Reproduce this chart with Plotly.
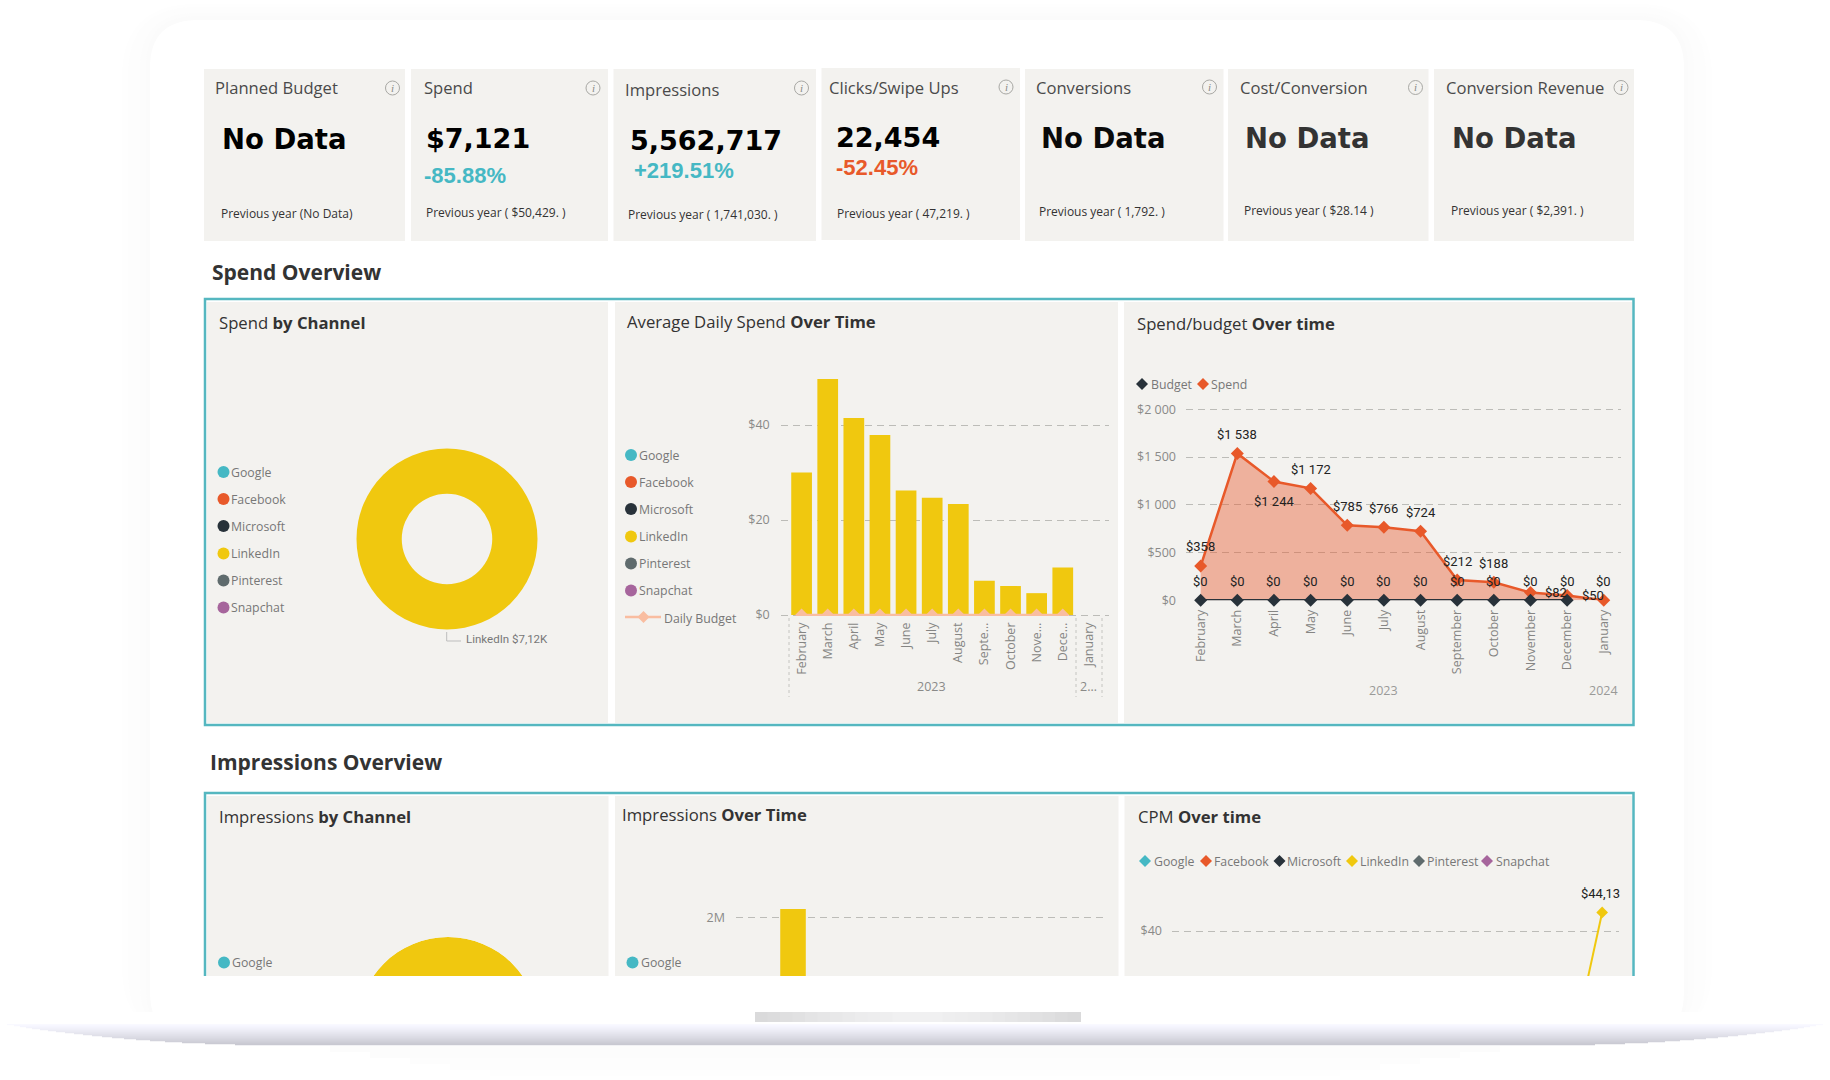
import plotly.graph_objects as go

# ---------- data ----------
kpi_titles = ["Planned Budget", "Spend", "Impressions", "Clicks/Swipe Ups", "Conversions", "Cost/Conversion", "Conversion Revenue"]
kpi_values = ["No Data", "$7,121", "5,562,717", "22,454", "No Data", "No Data", "No Data"]
kpi_changes = [None, "-85.88%", "+219.51%", "-52.45%", None, None, None]
kpi_previous = ["Previous year (No Data)", "Previous year ( $50,429. )", "Previous year ( 1,741,030. )",
                "Previous year ( 47,219. )", "Previous year ( 1,792. )", "Previous year ( $28.14 )", "Previous year ( $2,391. )"]

channels = ["Google", "Facebook", "Microsoft", "LinkedIn", "Pinterest", "Snapchat"]
spend_channel_labels = ["LinkedIn"]
spend_channel_values = [7121]

months = ["February", "March", "April", "May", "June", "July", "August", "September", "October", "November", "December", "January"]
months_short = ["February", "March", "April", "May", "June", "July", "August", "Septe…", "October", "Nove…", "Dece…", "January"]
daily_spend = [30.0, 49.7, 41.5, 37.9, 26.2, 24.7, 23.4, 7.2, 6.1, 4.6, 10.0]
daily_budget = [0, 0, 0, 0, 0, 0, 0, 0, 0, 0, 0]
spend_values = [358, 1538, 1244, 1172, 785, 766, 724, 212, 188, 82, 50, 0]
spend_labels = ["$358", "$1 538", "$1 244", "$1 172", "$785", "$766", "$724", "$212", "$188", "$82", "$50"]
budget_values = [0, 0, 0, 0, 0, 0, 0, 0, 0, 0, 0]
budget_labels = ["$0"] * 12
impressions_months = ["February"]
impressions_values = [2095000]
cpm_months = ["December", "January"]
cpm_linkedin = [7.0, 44.13]
cpm_label = "$44,13"

# ---------- styling ----------
W, H = 1830, 1080
PANEL = "#f3f2ef"
TEAL = "#55b7c0"
ORANGE = "#e8592a"
YELLOW = "#f0c80f"
DARK = "#28323a"
GREY = "#5f6b6d"
PURPLE = "#a6659c"
CH_COL = ["#45b8c4", ORANGE, DARK, YELLOW, GREY, PURPLE]
UI = "Open Sans"
TICK = "#8a8a88"
GRID = "#bcbcb8"

def px(x): return x / W
def py(y): return 1 - y / H

shapes, annots = [], []

def rect(x0, y0, x1, y1, fill, layer="below", line=None, lw=0):
    shapes.append(dict(type="rect", xref="paper", yref="paper", x0=px(x0), x1=px(x1), y0=py(y0), y1=py(y1),
                       fillcolor=fill, line=dict(width=lw, color=line or fill), layer=layer))

def P(x, y): return f"{px(x):.5f},{py(y):.5f}"

def rounded(x0, y0, x1, y1, r, fill):
    d = (f"M {P(x0+r,y0)} L {P(x1-r,y0)} Q {P(x1,y0)} {P(x1,y0+r)} L {P(x1,y1-r)} Q {P(x1,y1)} {P(x1-r,y1)} "
         f"L {P(x0+r,y1)} Q {P(x0,y1)} {P(x0,y1-r)} L {P(x0,y0+r)} Q {P(x0,y0)} {P(x0+r,y0)} Z")
    shapes.append(dict(type="path", xref="paper", yref="paper", path=d, fillcolor=fill, line=dict(width=0), layer="below"))

def circle(cx, cy, r, fill=None, line=None, lw=0, layer="above"):
    shapes.append(dict(type="circle", xref="paper", yref="paper", x0=px(cx-r), x1=px(cx+r), y0=py(cy+r), y1=py(cy-r),
                       fillcolor=fill or "rgba(0,0,0,0)", line=dict(width=lw, color=line or "rgba(0,0,0,0)"), layer=layer))

def diamond(cx, cy, r, fill):
    d = f"M {P(cx-r,cy)} L {P(cx,cy-r)} L {P(cx+r,cy)} L {P(cx,cy+r)} Z"
    shapes.append(dict(type="path", xref="paper", yref="paper", path=d, fillcolor=fill, line=dict(width=0), layer="above"))

def seg(x0, y0, x1, y1, color, w=1, dash=None):
    shapes.append(dict(type="line", xref="paper", yref="paper", x0=px(x0), x1=px(x1), y0=py(y0), y1=py(y1),
                       line=dict(color=color, width=w, dash=dash or "solid"), layer="above"))

def T(x, y, text, size=13, color="#444", family=UI, anchor="left"):
    annots.append(dict(xref="paper", yref="paper", x=px(x - 1 if anchor == "left" else x), y=py(y), text=text, showarrow=False,
                       xanchor=anchor, yanchor="middle", font=dict(size=size, color=color, family=family), borderpad=0))

# laptop lid
for i, c in enumerate(["#fefefe", "#fdfdfd", "#fdfdfd", "#fcfcfc", "#fbfbfb"]):
    d = 6 * (4 - i)
    rounded(146 - d, 16 - d * 0.5, 1688 + d, 1040, 50 + d, c)
rounded(150, 20, 1684, 1040, 48, "#ffffff")
rect(0, 1012, W, H, "#ffffff")

# KPI cards
card_x = [(204, 405), (411, 608), (613.5, 816), (821.5, 1020), (1025, 1223.5), (1228, 1428.5), (1434, 1634)]
card_y = [(69, 241)] * 3 + [(68, 240)] + [(69, 241)] * 3
title_xy = [(215, 87), (423.5, 87), (625, 89.5), (829, 87), (1036, 87), (1239.5, 87), (1445.5, 87)]
value_xy = [(221.5, 138.5), (426, 138.5), (630, 140), (835.5, 137), (1040.5, 137.5), (1244.5, 137.5), (1451.5, 137.5)]
value_col = ["#000", "#000", "#000", "#000", "#0a0a0a", "#333", "#333"]
change_xy = [None, (424, 175.5), (634, 170), (835.5, 167), None, None, None]
change_col = [None, "#45b8c4", "#45b8c4", ORANGE, None, None, None]
prev_xy = [(221, 213.5), (425.5, 212), (628, 214), (836.5, 213.5), (1038.5, 211), (1244, 210.5), (1451, 210.5)]
icon_xy = [(392.5, 88), (593, 88), (801.5, 88), (1006, 87), (1209.5, 87), (1415.5, 87.5), (1621, 87.5)]
for i in range(7):
    rect(card_x[i][0], card_y[i][0], card_x[i][1], card_y[i][1], PANEL)
    T(*title_xy[i], kpi_titles[i], 16.6, "#4a4a4a")
    T(*value_xy[i], f"<b>{kpi_values[i]}</b>", 27.5 if kpi_values[i] == "No Data" else 27, value_col[i], "DejaVu Sans")
    if kpi_changes[i]:
        T(*change_xy[i], f"<b>{kpi_changes[i]}</b>", 22, change_col[i], "Liberation Sans")
    T(*prev_xy[i], kpi_previous[i], 12, "#333")
    circle(*icon_xy[i], 7, line="#a8a8a4", lw=1)
    T(icon_xy[i][0], icon_xy[i][1], "<i>i</i>", 11, "#8a8a86", "Liberation Serif", "center")

# section titles
T(211.5, 272, "<b>Spend Overview</b>", 21, "#333")
T(210, 761.5, "<b>Impressions Overview</b>", 21, "#333")

# frames and panels, spend section
rect(205, 299, 1633.5, 725, "#ffffff", line=TEAL, lw=2.5)
rect(207, 302, 608, 723, PANEL)
rect(615, 302, 1118, 723, PANEL)
rect(1124, 302, 1632, 723, PANEL)
# frames and panels, impressions section
rect(205, 793, 1633.5, 1000, "#ffffff", line=TEAL, lw=2.5)
rect(207, 796, 608.5, 1000, PANEL)
rect(615, 796, 1118.5, 1000, PANEL)
rect(1124.5, 796, 1632, 1000, PANEL)

# panel titles
T(219, 322, "Spend <b>by Channel</b>", 16.7, "#333")
T(627, 321, "Average Daily Spend <b>Over Time</b>", 16.7, "#333")
T(1137, 323, "Spend/budget <b>Over time</b>", 16.7, "#333")
T(218.5, 816, "Impressions <b>by Channel</b>", 16.7, "#333")
T(621.5, 814, "Impressions <b>Over Time</b>", 16.7, "#333")
T(1138, 816, "CPM <b>Over time</b>", 16.7, "#333")

# legends with round swatches
leg_y1 = [472, 499, 526, 553.5, 580.5, 607.5]
leg_y2 = [455, 482, 509, 536.5, 563.5, 590.5]
for i, ch in enumerate(channels):
    circle(223.5, leg_y1[i], 6, CH_COL[i])
    T(231, leg_y1[i], ch, 12.3, "#777")
    circle(631, leg_y2[i], 6, CH_COL[i])
    T(638.5, leg_y2[i], ch, 12.3, "#777")
seg(625, 617, 661, 617, "#f9bda0", 2.5)
diamond(643.5, 617, 6, "#f9bda0")
T(664, 618, "Daily Budget", 12.3, "#777")

# donut leader
seg(446.7, 632, 446.7, 641, "#bdbdbd", 1)
seg(446.7, 641, 461, 641, "#bdbdbd", 1)
T(466, 639, "LinkedIn $7,12K", 11.5, "#777", "Roboto")

# year labels and separators, daily chart
T(931.7, 686.5, "2023", 12.5, "#8a8a88", UI, "center")
T(1088, 686.5, "2…", 12.5, "#8a8a88", UI, "center")
for xv in (789, 1076, 1102):
    seg(xv, 618, xv, 697, "#c4c4c0", 1, "dot")

# spend/budget legend + years
diamond(1142, 384, 6, DARK)
T(1151, 384, "Budget", 12.3, "#777")
diamond(1203, 384, 6, ORANGE)
T(1211, 384, "Spend", 12.3, "#777")
T(1383.7, 690.5, "2023", 12.5, "#9a9a98", UI, "center")
T(1603, 690.5, "2024", 12.5, "#9a9a98", UI, "center")

# lower legends
for xv, yv in ((224, 962.5), (632.5, 962.5)):
    circle(xv, yv, 6, CH_COL[0])
    T(xv + 8.5, yv, channels[0], 12.3, "#777")
cpm_d = [1145, 1206, 1279.5, 1352, 1419, 1487]
cpm_t = [1153.5, 1214, 1287, 1360, 1427, 1495.5]
for i, ch in enumerate(channels):
    diamond(cpm_d[i], 861, 6, CH_COL[i])
    T(cpm_t[i], 861, ch, 12.3, "#777")

# mask below the screen area
rect(340, 976, 560, H, "#ffffff", layer="above")
rect(200, 976, 1640, 1012, "#ffffff", layer="above")

# hinge notch
notch_n = 26
nw = (1080 - 755) / notch_n
for i in range(notch_n):
    t = abs(i - (notch_n - 1) / 2) / ((notch_n - 1) / 2)
    g = int(241 - 23 * t ** 1.5)
    rect(755 + i * nw, 1012, 755 + (i + 1) * nw + 1, 1022, f"rgb({g},{g},{g+1})", layer="above")

# base with taper
base_rows = [(1024, 7), (1025, 14), (1026, 20), (1027, 26), (1028, 32), (1029, 40), (1030, 48), (1031, 56), (1032, 65),
             (1033, 74), (1034, 83), (1035, 92), (1036, 102), (1037, 112), (1038, 124), (1039, 136), (1040, 150),
             (1041, 165), (1042, 182), (1043, 205), (1044, 235)]
for k, (yv, inset) in enumerate(base_rows):
    t = k / (len(base_rows) - 1)
    g = int(249 - (249 - 200) * t ** 1.15)
    rect(inset, yv, W - inset, yv + 1.2, f"rgb({g},{g},{min(g+9,255)})", layer="above")
for k, c in enumerate(["#fcfcfc", "#fcfcfc", "#fdfdfd", "#fdfdfd", "#fefefe"]):
    rect(330 + k * 40, 1046 + k * 6, W - 330 - k * 40, 1052 + k * 6, c, layer="above")

# ---------- traces ----------
fig = go.Figure()

fig.add_trace(go.Pie(labels=spend_channel_labels, values=spend_channel_values, hole=0.5, sort=False,
                     marker=dict(colors=[YELLOW]), textinfo="none", showlegend=False,
                     domain=dict(x=[px(447 - 90.5), px(447 + 90.5)], y=[py(539 + 90.5), py(539 - 90.5)])))

fig.add_trace(go.Bar(x=months_short[:11], y=daily_spend, name="LinkedIn", marker=dict(color=YELLOW, line=dict(width=0)),
                     xaxis="x", yaxis="y", showlegend=False))
fig.add_trace(go.Scatter(x=months_short[:11], y=daily_budget, name="Daily Budget", mode="lines+markers",
                         line=dict(color="#f9bda0", width=2.5), marker=dict(symbol="diamond", size=10, color="#f9bda0"),
                         xaxis="x", yaxis="y", showlegend=False))

fig.add_trace(go.Scatter(x=months, y=spend_values, name="Spend", mode="lines+markers", fill="tozeroy",
                         fillcolor="rgba(232,89,42,0.42)", line=dict(color=ORANGE, width=2.5),
                         marker=dict(symbol="diamond", size=10, color=ORANGE), cliponaxis=False,
                         xaxis="x2", yaxis="y2", showlegend=False))
fig.add_trace(go.Scatter(x=months[:11], y=budget_values, name="Budget", mode="lines+markers",
                         line=dict(color=DARK, width=2.5), marker=dict(symbol="diamond", size=10, color=DARK),
                         cliponaxis=False, xaxis="x2", yaxis="y2", showlegend=False))

fig.add_trace(go.Barpolar(r=[46], base=[45], theta=[90], width=[180], name="LinkedIn",
                          marker=dict(color=YELLOW, line=dict(width=0)), subplot="polar", showlegend=False))

fig.add_trace(go.Bar(x=impressions_months, y=impressions_values, name="LinkedIn", width=[0.825],
                     marker=dict(color=YELLOW, line=dict(width=0)), xaxis="x3", yaxis="y3", showlegend=False))

fig.add_trace(go.Scatter(x=cpm_months, y=cpm_linkedin, name="LinkedIn", mode="lines+markers",
                         line=dict(color=YELLOW, width=2), marker=dict(symbol="diamond", size=9, color=YELLOW),
                         xaxis="x4", yaxis="y4", showlegend=False))

# data labels on the spend/budget chart
spend_shift_x = [0, 0, 0, 0, 0, 0, 0, 0, 0, 26, 26]
spend_shift_y = [19.5, 19, -20, 19, 19, 19, 19, 19, 19, 0, 0]
for i, lab in enumerate(spend_labels):
    annots.append(dict(xref="x2", yref="y2", x=months[i], y=spend_values[i], text=lab, showarrow=False,
                       xshift=spend_shift_x[i], yshift=spend_shift_y[i], font=dict(size=13, color="#222", family="Roboto")))
for i, lab in enumerate(budget_labels):
    annots.append(dict(xref="x2", yref="y2", x=months[i], y=0, text=lab, showarrow=False, yshift=18.5,
                       font=dict(size=13, color="#222", family="Roboto")))
annots.append(dict(xref="x4", yref="y4", x=cpm_months[1], y=cpm_linkedin[1], text=cpm_label, showarrow=False,
                   xshift=-2, yshift=18.5, font=dict(size=13, color="#222", family="Roboto")))

tick_font = dict(size=12.5, color=TICK, family=UI)
x_base = dict(type="category", showgrid=False, zeroline=False, showline=False, ticks="", tickangle=-90,
              tickfont=dict(size=12.5, color="#858583", family=UI), fixedrange=True)
y_base = dict(showgrid=True, gridcolor=GRID, griddash="7px,5px", gridwidth=1, zeroline=False, showline=False,
              ticks="", tickfont=tick_font, fixedrange=True)

fig.update_layout(
    width=W, height=H, margin=dict(l=0, r=0, t=0, b=0, pad=0, autoexpand=False), paper_bgcolor="#ffffff",
    plot_bgcolor="rgba(0,0,0,0)",
    showlegend=False, shapes=shapes, annotations=annots, bargap=0.207,
    xaxis=dict(x_base, domain=[px(780.7), px(1109)], range=[-0.8, 11.77], categoryorder="array",
               categoryarray=months_short, tickvals=months_short, ticktext=months_short, anchor="y",
               ticklabelstandoff=3),
    yaxis=dict(y_base, domain=[py(616), py(370)], range=[-0.21, 51.6], tickvals=[0, 20, 40],
               ticktext=["$0", "$20", "$40"], anchor="x", ticklabelstandoff=10),
    xaxis2=dict(x_base, domain=[px(1186), px(1621)], range=[-0.40, 11.47], categoryorder="array",
                categoryarray=months, tickvals=months, ticktext=months, anchor="y2", ticklabelstandoff=6),
    yaxis2=dict(y_base, domain=[py(600.3), py(395)], range=[0, 2150], tickvals=[0, 500, 1000, 1500, 2000],
                ticktext=["$0", "$500", "$1 000", "$1 500", "$2 000"], anchor="x2", ticklabelstandoff=9),
    xaxis3=dict(x_base, domain=[px(736), px(1106)], range=[-1.84, 10.1], categoryorder="array",
                categoryarray=months, showticklabels=False, anchor="y3"),
    yaxis3=dict(y_base, domain=[py(976), py(880)], range=[1389000, 2400000], tickvals=[2000000], ticktext=["2M"],
                anchor="x3", ticklabelstandoff=10),
    xaxis4=dict(x_base, domain=[px(1172), px(1619)], range=[-0.75, 11.46], categoryorder="array",
                categoryarray=months, showticklabels=False, anchor="y4"),
    yaxis4=dict(y_base, domain=[py(976), py(880)], range=[30.07, 51.3], tickvals=[40], ticktext=["$40"],
                anchor="x4", ticklabelstandoff=9),
    polar=dict(domain=dict(x=[px(448 - 91), px(448 + 91)], y=[py(1028), py(937)]), sector=[0, 180],
               bgcolor="rgba(0,0,0,0)", radialaxis=dict(visible=False, range=[0, 91]),
               angularaxis=dict(visible=False)),
)

fig.write_html("out.html", config={"displayModeBar": False}, post_script="document.body.style.margin='0';")
